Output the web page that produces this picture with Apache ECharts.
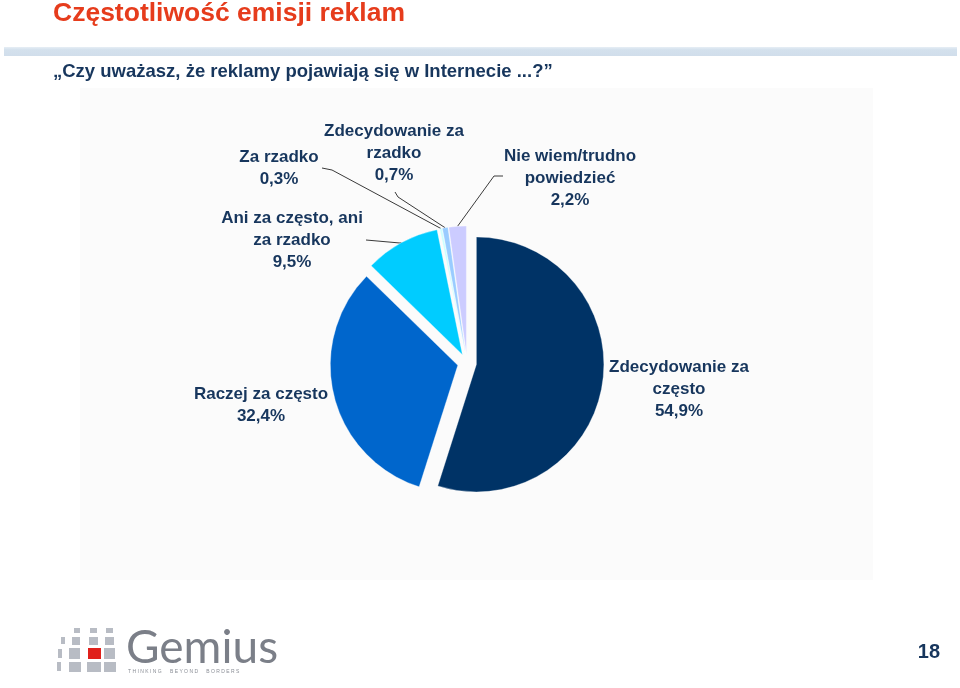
<!DOCTYPE html>
<html><head><meta charset="utf-8">
<script src="https://cdn.jsdelivr.net/npm/echarts@6/dist/echarts.min.js"></script>
<style>html,body{margin:0;padding:0;background:#fff}#c{width:960px;height:688px}</style>
</head><body><div id="c"></div>
<script>
const categories = ['Zdecydowanie za często','Raczej za często','Ani za często, ani za rzadko','Za rzadko','Zdecydowanie za rzadko','Nie wiem/trudno powiedzieć'];
const labelNames = ['Zdecydowanie za\nczęsto','Raczej za często','Ani za często, ani\nza rzadko','Za rzadko','Zdecydowanie za\nrzadko','Nie wiem/trudno\npowiedzieć'];
const values = [54.9, 32.4, 9.5, 0.3, 0.7, 2.2];
const colors = ['#003366','#0066cc','#00ccff','#ccffff','#99ccff','#ccccff'];
const titleText = 'Częstotliwość emisji reklam';
const subtitleText = '„Czy uważasz, że reklamy pojawiają się w Internecie ...?”';
const pageNumber = '18';

// layout only
const CX = 467, CY = 363, R = 127.5, EXPLODE = 9.5;
const labelPos = [[679,389],[261,405],[292,240],[279,168],[394,153],[570,178]];
const lineMid = [null,null,[[400,243],[366,240]],[[332,170],[322,168]],[[398,197],[395,192]],[[494,176],[503,176]]];

const chart = echarts.init(document.getElementById('c'), null, {renderer:'canvas'});
const navy = '#17365d';
const total = values.reduce((a,b)=>a+b,0);

// one pie series per slice so each slice can be pulled out along its own mid-angle
let cum = 0;
const series = values.map((v,k)=>{
  const mid = 2*Math.PI*(cum + v/2)/total; cum += v;
  const cx = CX + EXPLODE*Math.sin(mid), cy = CY - EXPLODE*Math.cos(mid);
  return {
    type:'pie', silent:true,
    center:[cx,cy], radius:R, startAngle:90, clockwise:true,
    avoidLabelOverlap:false,
    emphasis:{disabled:true},
    label:{
      show:true,
      formatter:(p)=>labelNames[p.dataIndex]+'\n'+String(p.value).replace('.',',')+'%',
      color:navy,
      fontFamily:'"Liberation Sans", Arial, sans-serif',
      fontWeight:'bold', fontSize:17, lineHeight:22, align:'center'
    },
    labelLine:{show:true,length:5,length2:5,lineStyle:{color:'#3a3a3a',width:1}},
    labelLayout:function(params){
      const i = params.dataIndex;
      if (i !== k) return {};
      const res = {x:labelPos[i][0], y:labelPos[i][1], align:'center', verticalAlign:'middle'};
      if (lineMid[i] && params.labelLinePoints){
        res.labelLinePoints = [params.labelLinePoints[0], lineMid[i][0], lineMid[i][1]];
      }
      return res;
    },
    data: values.map((vv,i)=>({
      name: categories[i], value: vv,
      itemStyle: i===k ? {color:colors[i], borderColor:'rgba(255,255,255,0.55)', borderWidth:0.6} : {color:'rgba(0,0,0,0)', borderWidth:0},
      label:{show: i===k},
      labelLine:{show: i===k && lineMid[i] !== null}
    }))
  };
});

// logo squares (decoration)
const sq = [
 [74,628,6,5],[90,628,7,5],[106,628,7,5],
 [61,637,4,7],[72,637,8,8],[89,637,9,8],[105,637,9,8],
 [58,649,4,9],[69,648,11,11],[88,648,13,11],[104,648,11,11],
 [57,662,4,9],[69,662,12,10],[87,662,14,10],[104,662,12,10]
];
const logo = sq.map((s,i)=>({type:'rect',shape:{x:s[0],y:s[1],width:s[2],height:s[3]},
  style:{fill: (i===9)?'#e0201b':'#b8bcc4'}}));

chart.setOption({
  backgroundColor:'#ffffff',
  animation:false,
  graphic:[
    {type:'rect',z:-10,shape:{x:80,y:88,width:793,height:492},style:{fill:'#fbfbfb'}},
    {type:'rect',shape:{x:4,y:47,width:953,height:9},style:{fill:{type:'linear',x:0,y:0,x2:0,y2:1,colorStops:[{offset:0,color:'#e6eef5'},{offset:0.3,color:'#d4e1ed'},{offset:1,color:'#d1deeb'}]}}},
    {type:'text',x:53,y:14,style:{text:titleText,fill:'#e63c1c',font:'bold 26.5px "Liberation Sans", Arial, sans-serif',textVerticalAlign:'middle'}},
    {type:'text',x:53,y:72,style:{text:subtitleText,fill:navy,font:'bold 18.5px "Liberation Sans", Arial, sans-serif',textVerticalAlign:'middle'}},
    {type:'text',x:940,y:652,style:{text:pageNumber,fill:navy,font:'bold 20px "Liberation Sans", Arial, sans-serif',textAlign:'right',textVerticalAlign:'middle'}},
    {type:'group',children:logo},
    {type:'text',x:126,y:648,style:{text:'Gemius',fill:'#7b7f88',font:'46px Lato, "Open Sans", sans-serif',textVerticalAlign:'middle'}},
    {type:'text',x:128,y:672,style:{text:'T H I N K I N G      B E Y O N D      B O R D E R S',fill:'#8a8e96',font:'5px "Liberation Sans", sans-serif',textVerticalAlign:'middle'}}
  ],
  series: series
});
</script></body></html>
